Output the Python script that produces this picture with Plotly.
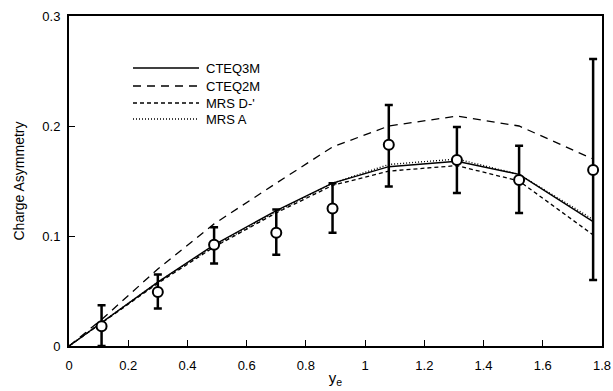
import plotly.graph_objects as go

# data points
x_data = [0.11, 0.30, 0.49, 0.70, 0.89, 1.08, 1.31, 1.52, 1.77]
y_data = [0.018, 0.049, 0.092, 0.103, 0.125, 0.183, 0.169, 0.151, 0.160]
err_up = [0.019, 0.016, 0.016, 0.021, 0.023, 0.036, 0.030, 0.031, 0.101]
err_dn = [0.018, 0.015, 0.017, 0.020, 0.022, 0.038, 0.030, 0.030, 0.100]

# theory curves
x_curve = [0.0, 0.11, 0.30, 0.49, 0.70, 0.89, 1.08, 1.31, 1.52, 1.77]
cteq3m = [0.0, 0.021, 0.058, 0.092, 0.123, 0.148, 0.163, 0.168, 0.156, 0.113]
cteq2m = [0.0, 0.024, 0.070, 0.111, 0.148, 0.181, 0.200, 0.209, 0.200, 0.170]
mrsd = [0.0, 0.021, 0.057, 0.090, 0.121, 0.146, 0.159, 0.164, 0.150, 0.101]
mrsa = [0.0, 0.021, 0.058, 0.091, 0.122, 0.148, 0.165, 0.170, 0.156, 0.115]

names = ["CTEQ3M", "CTEQ2M", "MRS D-'", "MRS A"]
dashes = ["solid", "8px,6px", "4px,3px", "1px,2px"]
widths = [1.4, 1.3, 1.3, 1.4]

x_ticks = [0, 0.2, 0.4, 0.6, 0.8, 1, 1.2, 1.4, 1.6, 1.8]
x_ticktext = ["0", "0.2", "0.4", "0.6", "0.8", "1", "1.2", "1.4", "1.6", "1.8"]
y_ticks = [0, 0.1, 0.2, 0.3]
y_ticktext = ["0", "0.1", "0.2", "0.3"]

fig = go.Figure()
for ys, nm, ds, w in zip([cteq3m, cteq2m, mrsd, mrsa], names, dashes, widths):
    fig.add_trace(go.Scatter(x=x_curve, y=ys, mode="lines", name=nm,
                             line=dict(color="black", dash=ds, width=w),
                             showlegend=False))

fig.add_trace(go.Scatter(
    x=x_data, y=y_data, mode="markers",
    marker=dict(symbol="circle", size=10, color="white",
                line=dict(color="black", width=2)),
    error_y=dict(type="data", symmetric=False, array=err_up, arrayminus=err_dn,
                 color="black", thickness=2.5, width=4),
    showlegend=False))

# manual legend
leg_y = [68, 86, 103, 119]
for nm, ds, w, py in zip(names, dashes, widths, leg_y):
    fig.add_shape(type="line", xref="paper", yref="paper",
                  x0=(133 - 69) / 533, x1=(199 - 69) / 533,
                  y0=(346 - py) / 330, y1=(346 - py) / 330,
                  line=dict(color="black", dash=ds, width=w))
    fig.add_annotation(xref="paper", yref="paper",
                       x=(204 - 69) / 533, y=(346 - py) / 330,
                       text=nm, showarrow=False, xanchor="left", yanchor="middle",
                       font=dict(size=13, color="black", family="Liberation Sans, Arial"))

fig.update_layout(
    width=613, height=391,
    margin=dict(l=69, r=11, t=16, b=45),
    paper_bgcolor="white", plot_bgcolor="white",
    font=dict(family="Liberation Sans, Arial", size=13, color="black"),
    xaxis=dict(range=[0, 1.8], tickvals=x_ticks, ticktext=x_ticktext,
               ticks="inside", ticklen=6, tickwidth=1, tickcolor="black",
               ticklabelstandoff=6, tickfont=dict(size=13), automargin=False,
               showline=True, linewidth=2, linecolor="black", mirror=True,
               showgrid=False, zeroline=False,
               title=dict(text="y<sub>e</sub>", standoff=1, font=dict(size=15))),
    yaxis=dict(range=[0, 0.3], tickvals=y_ticks, ticktext=y_ticktext,
               ticks="inside", ticklen=6, tickwidth=1, tickcolor="black",
               ticklabelstandoff=4, tickfont=dict(size=13), automargin=False,
               showline=True, linewidth=2, linecolor="black", mirror=True,
               showgrid=False, zeroline=False,
               title=dict(text="Charge Asymmetry", standoff=14, font=dict(size=14))),
)

fig.write_html("out.html")
